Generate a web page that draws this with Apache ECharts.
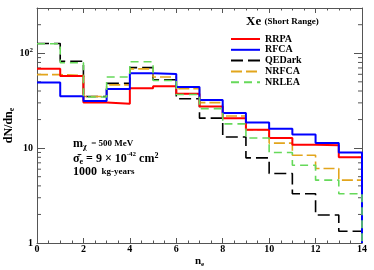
<!DOCTYPE html>
<html>
<head>
<meta charset="utf-8">
<script src="https://cdn.jsdelivr.net/npm/echarts@6/dist/echarts.min.js"></script>
<style>html,body{margin:0;padding:0;background:#fff}#c{width:374px;height:270px}</style>
</head>
<body>
<div id="c"></div>
<script>
// bin edges 0..14, one value per bin [i, i+1)
const binStart = [0,1,2,3,4,5,6,7,8,9,10,11,12,13];
const rrpa   = [68.8, 57.7, 30.2, 29.4, 42.8, 45.0, 37.5, 27.4, 20.7, 15.6, 12.8, 10.85, 10.7, 8.0];
const rfca   = [49.3, 35.3, 31.4, 42.0, 61.4, 60.6, 44.2, 32.2, 23.5, 18.6, 16.0, 13.9, 11.3, 9.0];
const qedark = [126.7, 82.3, 35.0, 48.1, 70.5, 52.6, 33.2, 20.7, 13.1, 7.9, 5.4, 3.3, 1.97, 1.33];
const nrfca  = [59.5, 58.5, 35.0, 46.4, 68.5, 56.2, 42.3, 30.2, 21.8, 15.6, 11.3, 8.4, 6.1, 4.6];
const nrlea  = [126, 79.3, 34.6, 56.3, 81.3, 51.7, 36.8, 26.1, 18.0, 12.8, 9.0, 6.6, 4.6, 3.3];
const xMax = 14, yMin = 1, yMax = 300;
const xTickLabels = ['0','2','4','6','8','10','12','14'];
const yMinorTicks = [2,3,4,5,6,7,8,9,20,30,40,50,60,70,80,90,200];

const FONT = 'Liberation Serif';
const AX = '#555';

function hist(vals){
  const pts = vals.map((v,i)=>[binStart[i], v]);
  pts.push([xMax, yMin]);
  return pts;
}
function lineSeries(name, vals, color, type, width){
  return {name, type:'line', step:'end', data:hist(vals), symbol:'none', showSymbol:false,
    lineStyle:{color, width, type}, itemStyle:{color}, animation:false, clip:false};
}

const xAxisBase = {type:'value', min:0, max:xMax, interval:2,
  axisLine:{show:true, onZero:false, lineStyle:{color:AX, width:1}},
  axisTick:{show:true, inside:true, length:5, lineStyle:{color:AX}},
  minorTick:{show:true, splitNumber:4, length:2.5, lineStyle:{color:AX}},
  splitLine:{show:false}};
const yAxisBase = {type:'log', logBase:10, min:yMin, max:yMax, interval:1, splitNumber:3,
  axisLine:{show:true, onZero:false, lineStyle:{color:AX, width:1}},
  axisTick:{show:true, inside:true, length:8, lineStyle:{color:AX}},
  splitLine:{show:false}};

const chart = echarts.init(document.getElementById('c'), null, {renderer:'canvas'});
chart.setOption({
  animation:false,
  backgroundColor:'#fff',
  grid:{left:37, right:12, top:8, bottom:27, outerBoundsMode:'none', containLabel:false},
  xAxis:[
    Object.assign({}, xAxisBase, {position:'bottom',
      name:'n{sub|e}', nameLocation:'middle', nameGap:12, nameMoveOverlap:false,
      nameTextStyle:{fontFamily:FONT, fontWeight:'bold', fontSize:11, color:'#000',
        rich:{sub:{fontFamily:FONT, fontWeight:'bold', fontSize:7, color:'#000', verticalAlign:'bottom', padding:[6,0,0,0]}}},
      axisLabel:{show:true, margin:1, fontFamily:FONT, fontWeight:'bold', fontSize:10, color:'#000',
        formatter:(v)=>xTickLabels[Math.round(v/2)]}}),
    Object.assign({}, xAxisBase, {position:'top', axisLabel:{show:false}})
  ],
  yAxis:[
    Object.assign({}, yAxisBase, {position:'left',
      name:'dN/dn{sub|e}', nameLocation:'middle', nameGap:21, nameRotate:90, nameMoveOverlap:false,
      nameTextStyle:{fontFamily:FONT, fontWeight:'bold', fontSize:12, color:'#000',
        rich:{sub:{fontFamily:FONT, fontWeight:'bold', fontSize:8, color:'#000', padding:[7,0,0,0]}}},
      axisLabel:{show:true, margin:4, showMaxLabel:false, fontFamily:FONT, fontWeight:'bold', fontSize:10, color:'#000',
        formatter:(v)=>{ if (Math.abs(v-100)<1) return '10{sup|2}'; if (Math.abs(v-10)<0.1) return '10'; if (Math.abs(v-1)<0.01) return '1'; return ''; },
        rich:{sup:{fontFamily:FONT, fontWeight:'bold', fontSize:7, color:'#000', padding:[0,0,6,0]}}}}),
    Object.assign({}, yAxisBase, {position:'right', axisLabel:{show:false}})
  ],
  legend:{
    orient:'vertical', left:230, top:34, padding:0,
    itemWidth:29, itemHeight:10, itemGap:0.8, itemTextGap:6,
    itemStyle:{opacity:0, borderWidth:0},
    data:['RRPA','RFCA','QEDark','NRFCA','NRLEA'],
    textStyle:{fontFamily:FONT, fontWeight:'bold', fontSize:10, color:'#000', lineHeight:10}
  },
  series:[
    lineSeries('QEDark', qedark, '#000000', [12,5], 1.6),
    lineSeries('NRFCA', nrfca, '#e2a51c', [11,4], 1.6),
    lineSeries('RRPA', rrpa, '#ff0000', 'solid', 2),
    lineSeries('RFCA', rfca, '#0000ff', 'solid', 2),
    lineSeries('NRLEA', nrlea, '#66d95a', [8,5], 1.6),
    {type:'custom', silent:true, clip:false, animation:false, xAxisIndex:0, yAxisIndex:0,
      data: yMinorTicks.map(v=>[0, v]), encode:{x:0, y:1},
      renderItem:(params, api)=>{
        const v = api.value(1);
        const pl = api.coord([0, v]);
        const pr = api.coord([xMax, v]);
        return {type:'group', children:[
          {type:'line', shape:{x1:pl[0], y1:pl[1], x2:pl[0]+4, y2:pl[1]}, style:{stroke:AX, lineWidth:1}},
          {type:'line', shape:{x1:pr[0]-4, y1:pr[1], x2:pr[0], y2:pr[1]}, style:{stroke:AX, lineWidth:1}}
        ]};
      }}
  ],
  graphic:[
    {type:'text', left:246, top:15, style:{
      text:'{a|Xe} {b|(Short Range)}', fill:'#000',
      rich:{a:{fontFamily:FONT, fontWeight:'bold', fontSize:13, fill:'#000'},
            b:{fontFamily:FONT, fontWeight:'bold', fontSize:9, fill:'#000'}}}},
    {type:'text', left:73, top:138, style:{
      text:'{m|m}{s|χ}{t|  = 500 MeV}', fill:'#000',
      rich:{m:{fontFamily:FONT, fontWeight:'bold', fontSize:12, fill:'#000'},
            s:{fontFamily:FONT, fontWeight:'bold', fontSize:8, fill:'#000', padding:[6,0,0,0]},
            t:{fontFamily:FONT, fontWeight:'bold', fontSize:9, fill:'#000'}}}},
    {type:'text', left:73, top:151, style:{
      text:'{m|σ\u0304}{s|e}{m| = 9 × 10}{p|-42}{m| cm}{q|2}', fill:'#000',
      rich:{m:{fontFamily:FONT, fontWeight:'bold', fontSize:12, fill:'#000'},
            s:{fontFamily:FONT, fontWeight:'bold', fontSize:8, fill:'#000', padding:[6,0,0,0]},
            p:{fontFamily:FONT, fontWeight:'bold', fontSize:7, fill:'#000', padding:[0,0,8,0]},
            q:{fontFamily:FONT, fontWeight:'bold', fontSize:8, fill:'#000', padding:[0,0,6,0]}}}},
    {type:'text', left:73, top:166, style:{
      text:'{m|1000}{t|  kg-years}', fill:'#000',
      rich:{m:{fontFamily:FONT, fontWeight:'bold', fontSize:12, fill:'#000'},
            t:{fontFamily:FONT, fontWeight:'bold', fontSize:9, fill:'#000'}}}}
  ]
});
</script>
</body>
</html>
